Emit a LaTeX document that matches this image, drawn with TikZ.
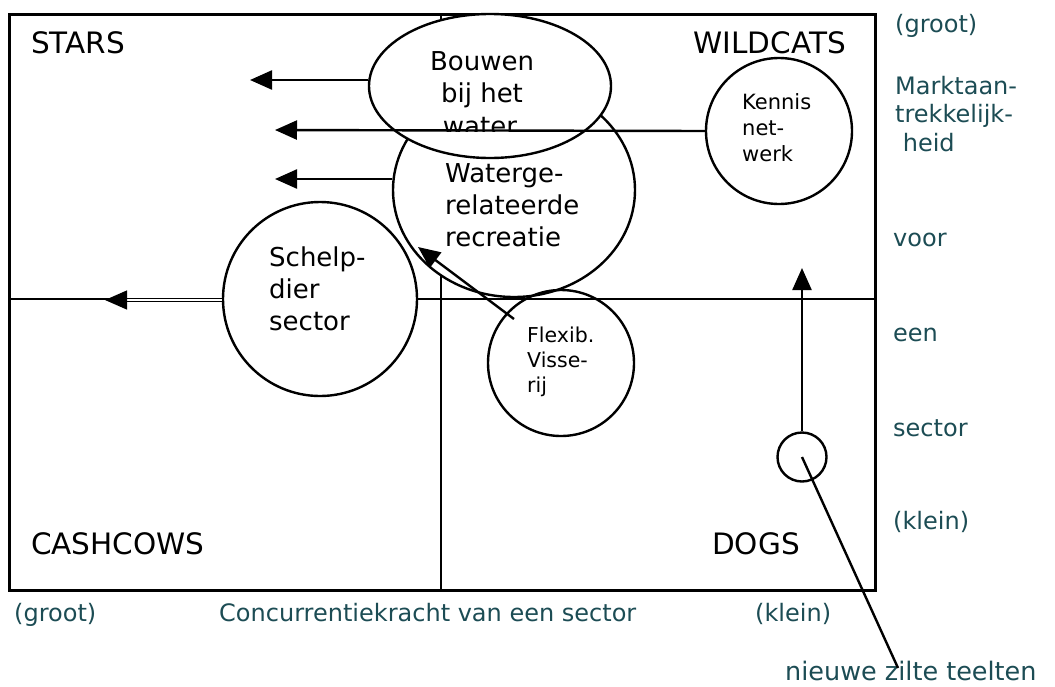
\documentclass[tikz,border=0pt]{standalone}
\usepackage{fontspec}
\setmainfont{DejaVu Sans}
\usetikzlibrary{shapes.geometric,arrows.meta}
\definecolor{tealtxt}{RGB}{28,76,84}
\begin{document}
\begin{tikzpicture}[x=1pt,y=-1pt,
  frame/.style={line width=3pt},
  divline/.style={line width=2.4pt},
  arr/.style={line width=2.4pt,-{Triangle[length=22pt,width=19pt]}},
  circ/.style={circle,draw,line width=2.4pt,fill=white,inner sep=0pt},
  ell/.style={ellipse,draw,line width=2.4pt,fill=white,inner sep=0pt},
  quad/.style={font=\fontsize{29.5}{34}\selectfont, anchor=base west, inner sep=0pt},
  lbl/.style={font=\fontsize{26}{32}\selectfont, anchor=base west, inner sep=0pt},
  lblc/.style={font=\fontsize{26}{32}\selectfont, anchor=base, inner sep=0pt},
  small/.style={font=\fontsize{21}{24}\selectfont, anchor=base west, inner sep=0pt},
  axis/.style={font=\fontsize{24}{28}\selectfont, anchor=base west, inner sep=0pt, text=tealtxt},
]
\useasboundingbox (0,0) rectangle (1055,686);
% frame and dividers
\draw[frame] (9,14) rectangle (875,590);
\draw[divline] (441,14) -- (441,590);
\draw[divline] (9,299) -- (875,299);

% ellipses and circles
\node[ell, minimum width=242pt, minimum height=214pt] (water) at (514,190) {};
\node[ell, minimum width=242pt, minimum height=144pt] (bouwen) at (490,86) {};
\node[circ, minimum size=194pt] (schelp) at (320,299) {};
\node[circ, fill=none, minimum size=146pt] (flex) at (561,363) {};
\node[circ, minimum size=146pt] (kennis) at (779,131) {};
\node[circ, minimum size=49pt] (zilt) at (802,457) {};

% quadrant labels
\node[quad] (stars) at (31,53) {STARS};
\node[quad, anchor=base east] (wild) at (846,53) {WILDCATS};
\node[quad] (cash) at (31,554) {CASHCOWS};
\node[quad] (dogs) at (712,554) {DOGS};

% Bouwen bij het water
\node[lblc] (b1) at (482,70) {Bouwen};
\node[lblc] (b2) at (482,102) {bij het};
\begin{scope}
  \clip (400,100) rectangle (570,131);
  \node[lblc] (b3) at (480,135) {water};
\end{scope}

% Watergerelateerde recreatie
\node[lbl] (w1) at (445,182) {Waterge-};
\node[lbl] (w2) at (445,214) {relateerde};
\node[lbl] (w3) at (445,246) {recreatie};

% Schelpdier sector
\node[lbl] (s1) at (269,266) {Schelp-};
\node[lbl] (s2) at (269,298) {dier};
\node[lbl] (s3) at (269,330) {sector};

% Kennis netwerk
\node[small] (k1) at (742,109) {Kennis};
\node[small] (k2) at (742,135) {net-};
\node[small] (k3) at (742,161) {werk};

% Flexib. Visserij
\node[small, font=\fontsize{20.5}{24}\selectfont] (f1) at (527,342) {Flexib.};
\node[small, font=\fontsize{20.5}{24}\selectfont] (f2) at (527,367) {Visse-};
\node[small, font=\fontsize{20.5}{24}\selectfont] (f3) at (527,392) {rij};

% right axis labels
\node[axis] (rg) at (895,32) {(groot)};
\node[axis] (r1) at (895,94) {Marktaan-};
\node[axis] (r2) at (895,122) {trekkelijk-};
\node[axis] (r3) at (895,151) {\ heid};
\node[axis] (r4) at (893,246) {voor};
\node[axis] (r5) at (893,341) {een};
\node[axis] (r6) at (893,436) {sector};
\node[axis] (rk) at (893,529) {(klein)};

% bottom axis labels
\node[axis] (bg) at (14,621) {(groot)};
\node[axis] (bc) at (219,621) {Concurrentiekracht van een sector};
\node[axis] (bk) at (755,621) {(klein)};
\node[axis, font=\fontsize{25.5}{30}\selectfont] (nz) at (785,680) {nieuwe zilte teelten};

% arrows
\coordinate (a1) at (250,80);
\coordinate (a2) at (275,130);
\coordinate (a3) at (275,179);
\coordinate (a4) at (105,300);
\coordinate (a5) at (418,247);
\coordinate (a6) at (802,268);
\coordinate (zend) at (898,668);
\coordinate (fstart) at (514,319);
\draw[arr] (bouwen.west |- a1) -- (a1);
\draw[arr] (kennis.west) -- (a2);
\draw[arr] (water.west |- a3) -- (a3);
\draw[line width=1.2pt, double distance=2.2pt, -{Triangle[length=22pt,width=19pt]}] (schelp.west |- a4) -- (a4);
\draw[arr] (fstart) -- (a5);
\draw[arr] (zilt.north) -- (a6);
\draw[line width=2.4pt] (zilt.center) -- (zend);
\end{tikzpicture}
\end{document}
